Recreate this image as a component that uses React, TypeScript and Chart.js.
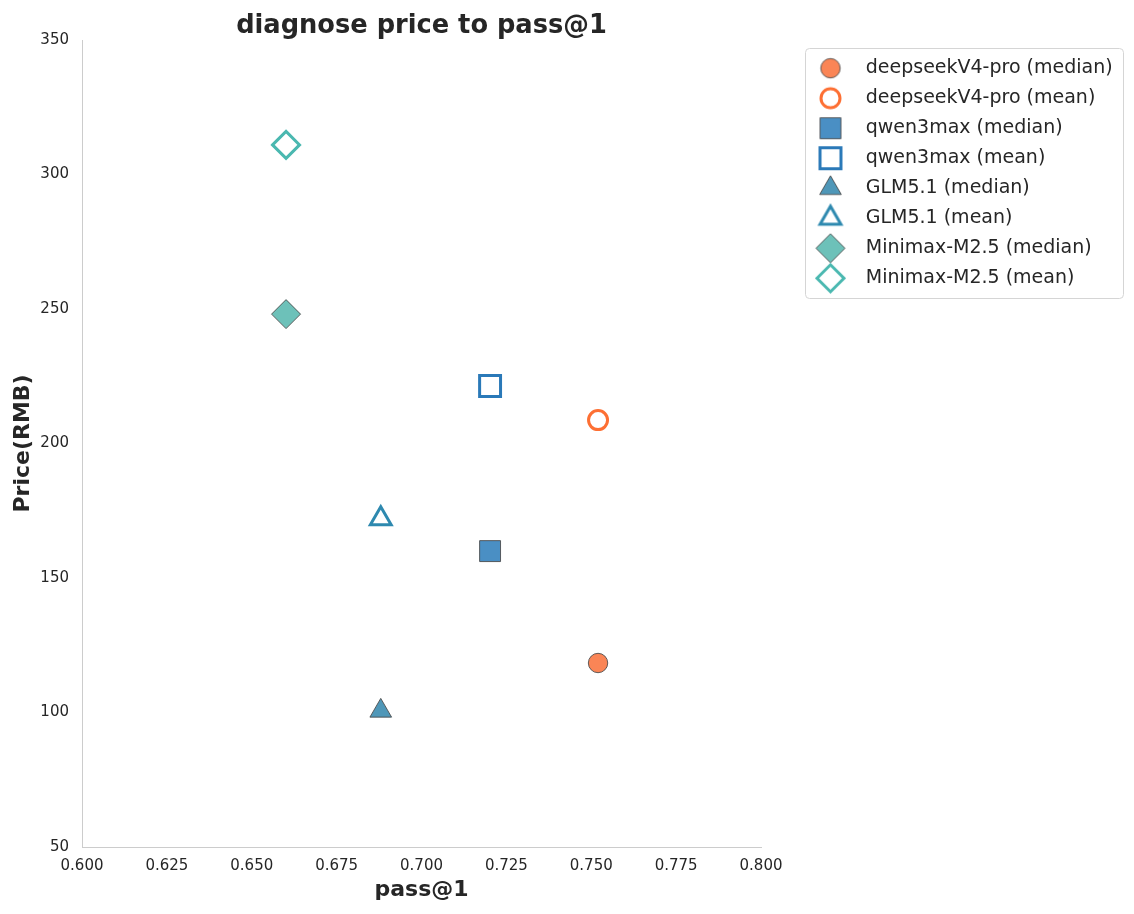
import React, { useEffect, useRef } from 'react';
import { Chart, registerables } from 'chart.js';
import { drawPoint } from 'chart.js/helpers';

Chart.register(...registerables);

// ---- data ----
const models = ['deepseekV4-pro', 'qwen3max', 'GLM5.1', 'Minimax-M2.5'];
const passAt1 = [0.752, 0.7202, 0.688, 0.6601];
const medianPrice = [118.4, 160.0, 100.6, 248.1];
const meanPrice = [208.7, 221.4, 172.0, 311.0];

const medianColors = ['#fa8556', '#4a8fc4', '#4f97b8', '#6dc1b9'];
const meanColors = ['#fd6f33', '#2a79b8', '#2e89af', '#4ab8b0'];
const markerStyles = ['circle', 'rect', 'triangle', 'rectRot'];
const medianRadius = [9.7, 14.8, 12.5, 14.5];
const meanRadius = [9.5, 14.8, 12.0, 13.5];

const xRange = [0.6, 0.8];
const xStep = 0.025;
const yRange = [50, 350];
const yStep = 50;

const TEXT = '#262626';
const SPINE = '#cccccc';
const FONT = "'DejaVu Sans', sans-serif";

function makeMarker(style: string, radius: number, fill: string, stroke: string, bw: number) {
  const size = Math.ceil(2 * (radius + bw)) + 4;
  const c = document.createElement('canvas');
  c.width = size;
  c.height = size;
  const ctx = c.getContext('2d')!;
  ctx.fillStyle = fill;
  ctx.strokeStyle = stroke;
  ctx.lineWidth = bw;
  drawPoint(ctx, { pointStyle: style as any, radius, rotation: 0, borderWidth: bw }, size / 2, size / 2);
  return c;
}

export default function App() {
  const ref = useRef<HTMLCanvasElement | null>(null);

  useEffect(() => {
    document.body.style.margin = '0';
    const canvas = ref.current;
    if (!canvas) return;

    const datasets: any[] = [];
    const legendImgs: HTMLCanvasElement[] = [];
    models.forEach((m, i) => {
      const medEdge = 'rgba(70,70,70,0.85)';
      datasets.push({
        label: `${m} (median)`,
        data: [{ x: passAt1[i], y: medianPrice[i] }],
        pointStyle: markerStyles[i],
        pointRadius: medianRadius[i],
        pointHoverRadius: medianRadius[i],
        backgroundColor: medianColors[i],
        borderColor: medEdge,
        borderWidth: 1,
      });
      legendImgs.push(makeMarker(markerStyles[i], medianRadius[i], medianColors[i], medEdge, 1));
      datasets.push({
        label: `${m} (mean)`,
        data: [{ x: passAt1[i], y: meanPrice[i] }],
        pointStyle: markerStyles[i],
        pointRadius: meanRadius[i],
        pointHoverRadius: meanRadius[i],
        backgroundColor: 'rgba(255,255,255,0)',
        borderColor: meanColors[i],
        borderWidth: 3,
      });
      legendImgs.push(makeMarker(markerStyles[i], meanRadius[i], 'rgba(255,255,255,0)', meanColors[i], 3));
    });

    const legendPlacer = {
      id: 'legendPlacer',
      afterLayout(chart: any) {
        const lg = chart.legend;
        if (!lg) return;
        const w = lg.width;
        const h = lg.height;
        lg.left = 793.75;
        lg.top = 47.75;
        lg.right = lg.left + w;
        lg.bottom = lg.top + h;
      },
      afterDraw(chart: any) {
        const ctx = chart.ctx;
        const x = 805.5, y = 48.5, w = 318, h = 250, r = 4;
        ctx.save();
        ctx.strokeStyle = '#d5d5d5';
        ctx.lineWidth = 1;
        ctx.beginPath();
        ctx.moveTo(x + r, y);
        ctx.lineTo(x + w - r, y);
        ctx.arcTo(x + w, y, x + w, y + r, r);
        ctx.lineTo(x + w, y + h - r);
        ctx.arcTo(x + w, y + h, x + w - r, y + h, r);
        ctx.lineTo(x + r, y + h);
        ctx.arcTo(x, y + h, x, y + h - r, r);
        ctx.lineTo(x, y + r);
        ctx.arcTo(x, y, x + r, y, r);
        ctx.closePath();
        ctx.stroke();
        ctx.restore();
      },
    };

    const chart = new Chart(canvas, {
      type: 'scatter',
      data: { datasets },
      plugins: [legendPlacer],
      options: {
        animation: false,
        responsive: false,
        devicePixelRatio: 1,
        layout: { padding: { left: 0, right: 373, top: 0, bottom: 0 } },
        plugins: {
          tooltip: { enabled: false },
          title: {
            display: true,
            text: 'diagnose price to pass@1',
            fullSize: false,
            color: TEXT,
            font: { family: FONT, size: 25.7, weight: 'bold', lineHeight: 1.0 },
            padding: { top: 13, bottom: 1.3 },
          },
          legend: {
            display: true,
            position: 'chartArea',
            align: 'start',
            labels: {
              usePointStyle: true,
              pointStyleWidth: 51.5,
              padding: 11,
              color: TEXT,
              font: { family: FONT, size: 19 },
              generateLabels: (ch: any) =>
                ch.data.datasets.map((ds: any, i: number) => ({
                  text: ds.label,
                  pointStyle: legendImgs[i],
                  fillStyle: 'rgba(0,0,0,0)',
                  strokeStyle: 'rgba(0,0,0,0)',
                  lineWidth: 0,
                  hidden: false,
                  datasetIndex: i,
                  fontColor: TEXT,
                })),
            },
          },
        },
        scales: {
          x: {
            type: 'linear',
            min: xRange[0],
            max: xRange[1],
            afterFit: (s: any) => {
              s.height = 67;
            },
            grid: { display: false, drawTicks: false },
            border: { display: true, color: SPINE, width: 1 },
            ticks: {
              stepSize: xStep,
              color: TEXT,
              padding: 10.5,
              maxRotation: 0,
              autoSkip: false,
              font: { family: FONT, size: 15 },
              callback: (v: any) => Number(v).toFixed(3),
            },
            title: {
              display: true,
              text: 'pass@1',
              color: TEXT,
              font: { family: FONT, size: 22, weight: 'bold', lineHeight: 1.2 },
              padding: { top: 0, bottom: 10.5 },
            },
          },
          y: {
            type: 'linear',
            min: yRange[0],
            max: yRange[1],
            afterFit: (s: any) => {
              s.width = 82;
            },
            grid: { display: false, drawTicks: false },
            border: { display: true, color: SPINE, width: 1 },
            ticks: {
              stepSize: yStep,
              color: TEXT,
              padding: 13,
              font: { family: FONT, size: 15 },
            },
            title: {
              display: true,
              text: 'Price(RMB)',
              color: TEXT,
              font: { family: FONT, size: 22, weight: 'bold', lineHeight: 1.2 },
              padding: { top: 10, bottom: 0 },
            },
          },
        },
      },
    });

    return () => {
      chart.destroy();
    };
  }, []);

  return (
    <div style={{ width: 1134, height: 914, background: '#ffffff' }}>
      <canvas ref={ref} width={1134} height={914} style={{ display: 'block', width: 1134, height: 914 }} />
    </div>
  );
}
